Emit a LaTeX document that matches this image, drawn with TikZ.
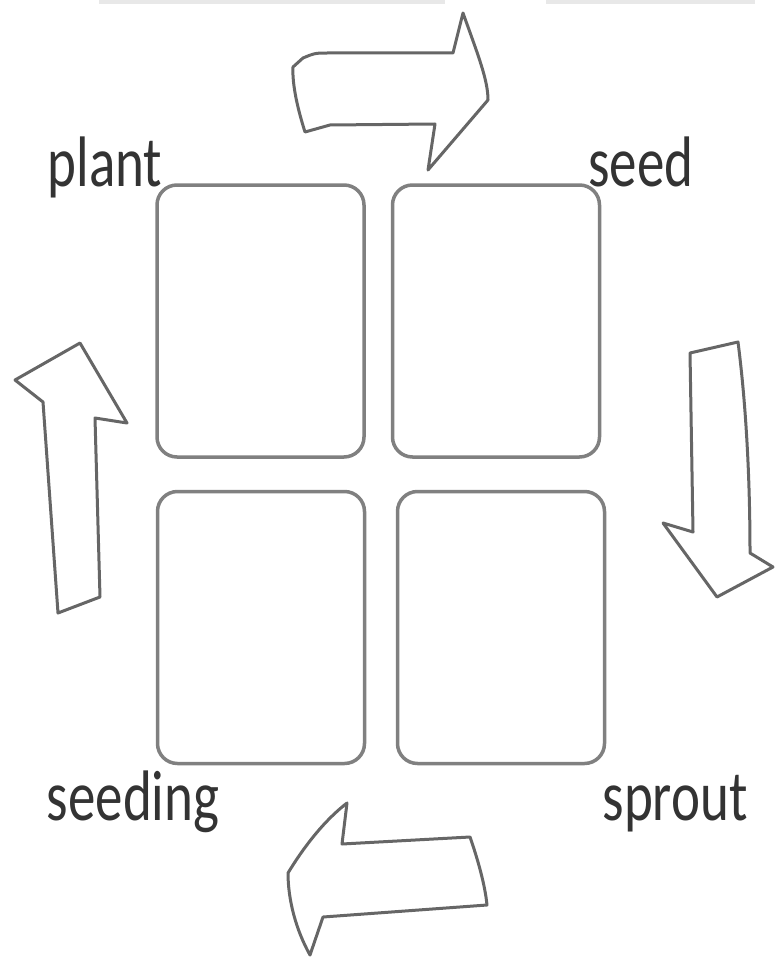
\documentclass[tikz,border=0pt]{standalone}
\usepackage{fontspec}
\setmainfont{Carlito}
\tikzstyle{card}=[draw=black!50,line width=3.5pt,rounded corners=20pt,minimum width=207pt,minimum height=272pt,inner sep=0pt]
\tikzstyle{lbl}=[text=black!80,font=\fontsize{55}{55}\selectfont,inner sep=0pt,anchor=base]
\tikzstyle{blockarr}=[draw=black!60,line width=3pt,fill=white,line join=round]
\tikzstyle{strip}=[fill=black!9,draw=none]

\begin{document}
\begin{tikzpicture}[x=1pt,y=-1pt]
  \useasboundingbox (0,0) rectangle (775,960);
  % faint strips at the top edge
  \fill[strip] (99,0) rectangle (445,4);
  \fill[strip] (546,0) rectangle (755,4);
  % the four cards
  \node[card] (plantbox) at (260.5,321) {};
  \node[card] (seedbox) at (496,321) {};
  \node[card] (seedingbox) at (261,627.5) {};
  \node[card] (sproutbox) at (501,627.5) {};
  % labels
  \node[lbl] (plant) at (105,186) {\scalebox{1}[1.3]{plant}};
  \node[lbl] (seed) at (641,186) {\scalebox{1}[1.3]{seed}};
  \node[lbl] (seeding) at (133,820) {\scalebox{1}[1.3]{seeding}};
  \node[lbl] (sprout) at (675,820) {\scalebox{1}[1.3]{sprout}};
  % block arrows
  \draw[blockarr] (303,58) .. controls (315,53) .. (330,53) -- (453,53) -- (463,13)
    .. controls (478,55) and (488,80) .. (488,100) -- (428,170) -- (435,124)
    -- (330,125) -- (305,132) .. controls (298,110) and (292,85) .. (293,67) -- cycle;
  \draw[blockarr] (80,343) -- (127,423) -- (95,418) -- (100,597) -- (58,613)
    -- (43,402) -- (15,380) -- cycle;
  \draw[blockarr] (690,353) -- (738,342) .. controls (748,420) and (750,500) .. (750,553)
    -- (773,567) -- (717,597) -- (663,523) -- (693,532) -- cycle;
  \draw[blockarr] (347,803) -- (342,844) -- (470,837) .. controls (478,860) and (485,885) .. (487,905)
    -- (323,917) -- (310,955) .. controls (296,930) and (288,900) .. (288,873)
    .. controls (305,845) and (325,820) .. (347,803) -- cycle;
\end{tikzpicture}
\end{document}
